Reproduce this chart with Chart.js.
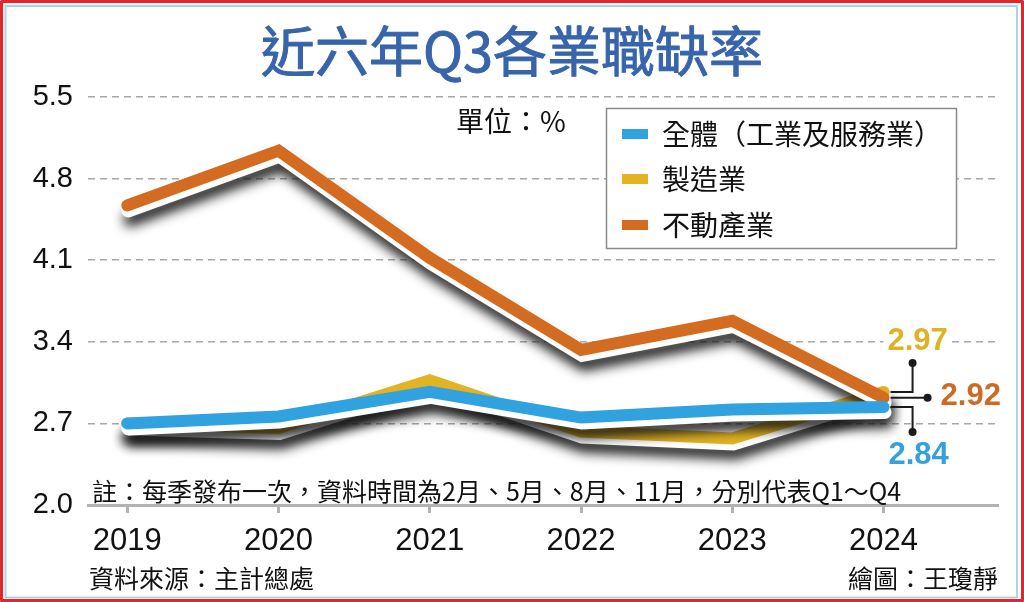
<!DOCTYPE html>
<html lang="zh-Hant">
<head>
<meta charset="utf-8">
<title>近六年Q3各業職缺率</title>
<script src="https://cdn.jsdelivr.net/npm/chart.js@4.4.1/dist/chart.umd.min.js"></script>
<style>
  html, body { margin: 0; padding: 0; background: #fff; }
  #wrap { position: relative; width: 1024px; height: 602px; }
</style>
</head>
<body>
<div id="wrap"><canvas id="jobChart" width="1024" height="602"></canvas></div>
<script>
// values (%)
const years = [2019, 2020, 2021, 2022, 2023, 2024];
const seriesNames = ['全體（工業及服務業）', '製造業', '不動產業'];
const overallRate = [2.70, 2.76, 2.97, 2.75, 2.82, 2.84];
const manufacturingRate = [2.70, 2.66, 3.07, 2.63, 2.57, 2.97];
const realEstateRate = [4.57, 5.04, 4.12, 3.33, 3.58, 2.92];
const yTicks = [2.0, 2.7, 3.4, 4.1, 4.8, 5.5];

const seriesValues = [overallRate, manufacturingRate, realEstateRate];
const seriesColors = ['#2fa2df', '#e2b322', '#d36b20'];
const labelColors = ['#34a0dc', '#dfb225', '#cf6a22'];
const drawOrder = [1, 5, 3]; // blue on top, then orange, then yellow

const CJK = '"Noto Sans CJK TC", "Noto Sans CJK SC", sans-serif';
const LATIN = '"Liberation Sans", Arial, sans-serif';

const datasets = [];
seriesValues.forEach((vals, i) => {
    const pts = years.map((yr, j) => ({ x: yr, y: vals[j] }));
    datasets.push({
        label: seriesNames[i],
        data: pts,
        borderColor: seriesColors[i],
        borderWidth: 12,
        order: drawOrder[i]
    });
    // white rim just under each line, carries the drop shadow
    datasets.push({
        label: seriesNames[i],
        data: pts,
        borderColor: '#ffffff',
        borderWidth: 14,
        order: drawOrder[i] + 1,
        outline: true
    });
});

const lineShadow = {
    id: 'lineShadow',
    beforeDatasetDraw(chart, args) {
        if (!chart.data.datasets[args.index].outline) return;
        const ctx = chart.ctx;
        ctx.save();
        ctx.translate(1, 5);
        ctx.shadowColor = 'rgba(20, 20, 20, 0.95)';
        ctx.shadowBlur = 12;
        ctx.shadowOffsetX = 2;
        ctx.shadowOffsetY = 9;
    },
    afterDatasetDraw(chart, args) {
        if (chart.data.datasets[args.index].outline) chart.ctx.restore();
    }
};

// end values with the little bracket on the right
const endLabels = {
    id: 'endLabels',
    afterDatasetsDraw(chart) {
        const ctx = chart.ctx;
        const xs = chart.scales.x, ys = chart.scales.y;
        const last = years.length - 1;
        const ex = xs.getPixelForValue(years[last]);
        const ends = seriesValues.map((v, i) => ({ i, v: v[last], y: ys.getPixelForValue(v[last]) }))
            .sort((a, b) => b.v - a.v);
        const top = ends[0], mid = ends[1], bot = ends[2];
        const bx = ex + 29;

        ctx.save();
        ctx.strokeStyle = '#1a1a1a';
        ctx.fillStyle = '#1a1a1a';
        ctx.lineWidth = 2;
        ctx.beginPath();
        ctx.moveTo(ex + 7, top.y); ctx.lineTo(bx, top.y); ctx.lineTo(bx, top.y - 29);
        ctx.moveTo(ex + 7, mid.y); ctx.lineTo(ex + 44, mid.y);
        ctx.moveTo(ex + 7, bot.y); ctx.lineTo(bx, bot.y); ctx.lineTo(bx, bot.y + 25);
        ctx.stroke();
        [[bx, top.y - 29], [ex + 44, mid.y], [bx, bot.y + 25]].forEach(([x, y]) => {
            ctx.beginPath(); ctx.arc(x, y, 4, 0, Math.PI * 2); ctx.fill();
        });

        ctx.font = 'bold 31px ' + LATIN;
        ctx.textBaseline = 'middle';
        const put = (e, x, y, align) => {
            const txt = e.v.toFixed(2);
            const w = ctx.measureText(txt).width;
            const left = align === 'center' ? x - w / 2 : x;
            ctx.fillStyle = '#fff';
            ctx.fillRect(left - 4, y - 16, w + 8, 32);
            ctx.fillStyle = labelColors[e.i];
            ctx.textAlign = 'left';
            ctx.fillText(txt, left, y);
        };
        put(top, ex + 34, top.y - 50, 'center');
        put(mid, ex + 57, mid.y - 1, 'left');
        put(bot, ex + 35, bot.y + 48, 'center');
        ctx.restore();
    }
};

const decorations = {
    id: 'decorations',
    afterDraw(chart) {
        const ctx = chart.ctx;
        ctx.save();

        // title, regular face thickened a little
        ctx.fillStyle = '#3764ab';
        ctx.strokeStyle = '#3764ab';
        ctx.lineWidth = 1;
        ctx.lineJoin = 'round';
        ctx.font = '400 54px ' + CJK;
        ctx.textAlign = 'center';
        ctx.textBaseline = 'middle';
        ctx.fillText('近六年Q3各業職缺率', 512, 51);
        ctx.strokeText('近六年Q3各業職缺率', 512, 51);

        // unit
        ctx.fillStyle = '#111';
        ctx.font = '28px ' + CJK;
        ctx.textAlign = 'left';
        ctx.fillText('單位：%', 456, 121);

        // legend box
        ctx.fillStyle = '#fff';
        ctx.fillRect(606, 108, 351, 141);
        ctx.strokeStyle = '#8a8a8a';
        ctx.lineWidth = 1.5;
        ctx.strokeRect(606.5, 108.5, 350, 140);
        const rowY = [134, 179, 225];
        chart.data.datasets.filter(d => !d.outline).forEach((d, k) => {
            ctx.fillStyle = d.borderColor;
            ctx.fillRect(622, rowY[k] - 5, 26, 10);
            ctx.fillStyle = '#111';
            ctx.font = '28px ' + CJK;
            ctx.fillText(d.label, 662, rowY[k]);
        });

        // note, source, credit
        ctx.fillStyle = '#111';
        ctx.font = '25px ' + CJK;
        ctx.fillText('註：每季發布一次，資料時間為2月、5月、8月、11月，分別代表Q1～Q4', 92, 491);
        ctx.fillText('資料來源：主計總處', 89, 578);
        ctx.textAlign = 'right';
        ctx.fillText('繪圖：王瓊靜', 998, 578);

        // frame
        ctx.strokeStyle = '#e4262c';
        ctx.lineWidth = 3;
        ctx.strokeRect(1.5, 1.5, 1021, 599);
        ctx.strokeStyle = '#a9d4ea';
        ctx.lineWidth = 2;
        ctx.strokeRect(5.5, 6, 1011.5, 591.5);
        ctx.restore();
    }
};

new Chart(document.getElementById('jobChart'), {
    type: 'line',
    data: { datasets: datasets },
    options: {
        responsive: false,
        animation: false,
        layout: { padding: { top: 97, right: 27, left: 0, bottom: 0 } },
        elements: {
            point: { radius: 0, hoverRadius: 0 },
            line: { tension: 0, borderCapStyle: 'round', borderJoinStyle: 'miter', fill: false }
        },
        datasets: { line: { clip: false } },
        plugins: {
            legend: { display: false },
            title: { display: false },
            tooltip: { enabled: false }
        },
        scales: {
            x: {
                type: 'linear',
                min: 2018.74,
                max: 2024.75,
                afterBuildTicks: s => { s.ticks = years.map(v => ({ value: v })); },
                afterFit: s => { s.height = 97; },
                grid: { drawOnChartArea: false, drawTicks: true, tickLength: 8, color: '#b3b3b3', lineWidth: 3 },
                border: { display: true, color: '#b3b3b3', width: 3 },
                ticks: {
                    callback: v => String(v),
                    color: '#111',
                    font: { family: LATIN, size: 31 },
                    padding: 10,
                    maxRotation: 0,
                    autoSkip: false
                }
            },
            y: {
                type: 'linear',
                min: 2.0,
                max: 5.5,
                afterBuildTicks: s => { s.ticks = yTicks.map(v => ({ value: v })); },
                afterFit: s => { s.width = 88; },
                grid: { color: '#a8a8a8', lineWidth: 1.5, drawTicks: false },
                border: { display: false, dash: [7, 5] },
                ticks: {
                    callback: v => v.toFixed(1),
                    color: '#111',
                    font: { family: LATIN, size: 29 },
                    padding: 15
                }
            }
        }
    },
    plugins: [lineShadow, endLabels, decorations]
});
</script>
</body>
</html>
